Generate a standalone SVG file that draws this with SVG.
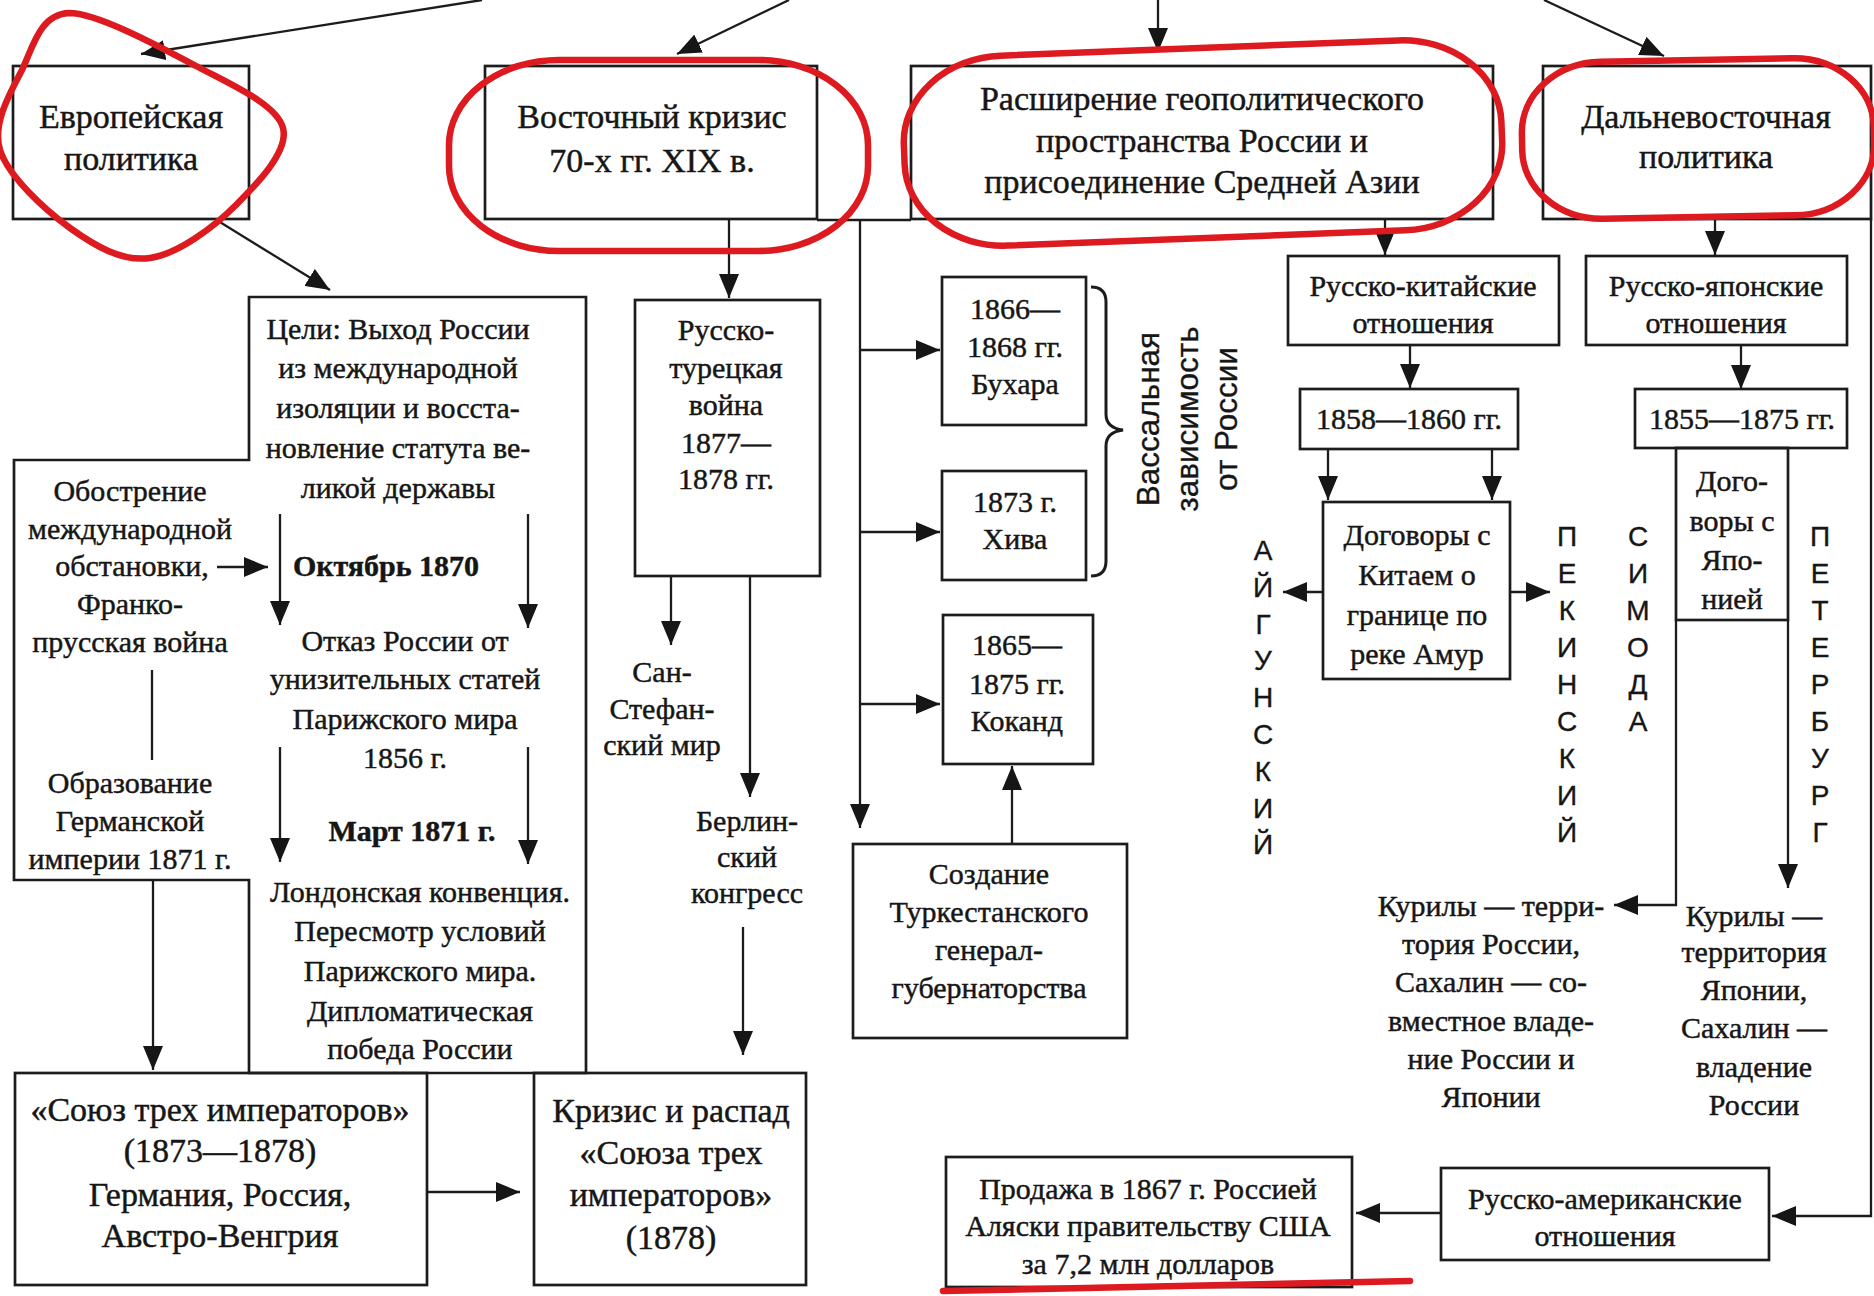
<svg xmlns="http://www.w3.org/2000/svg" width="1874" height="1296" viewBox="0 0 1874 1296">
<defs>
<style>
.box{fill:none;stroke:#1c1c1c;stroke-width:2.7}
.ln{fill:none;stroke:#1c1c1c;stroke-width:2.3}
.arr{marker-end:url(#ah)}
.t{font-family:"Liberation Serif","Times New Roman",serif;font-size:30px;text-anchor:middle;fill:#161616;stroke:#161616;stroke-width:0.45}
.tb{font-weight:bold}
.big{font-size:34px}
.s{font-family:"Liberation Sans",Arial,sans-serif;font-size:28px;text-anchor:middle;fill:#161616;stroke:#161616;stroke-width:0.35}
.sv{font-size:31.5px}
.red{fill:none;stroke:#dc1a1f;stroke-width:6.5;stroke-linecap:round;stroke-linejoin:round}
</style>
<marker id="ah" markerUnits="userSpaceOnUse" viewBox="0 0 24 20" refX="24" refY="10" markerWidth="24" markerHeight="20" orient="auto">
<path d="M0,0 L24,10 L0,20 Z" fill="#161616"/>
</marker>
</defs>
<rect width="1874" height="1296" fill="#ffffff"/>

<g id="connectors">
<path class="ln arr" d="M482,0 L141,54"/>
<path class="ln arr" d="M789,0 L677,54"/>
<path class="ln arr" d="M1158,0 L1158,52"/>
<path class="ln arr" d="M1544,0 L1664,56"/>
<path class="ln arr" d="M215,219 L330,290"/>
<path class="ln arr" d="M729,220 L729,298"/>
<path class="ln" d="M817,220 L911,220"/>
<path class="ln arr" d="M860,220 L860,828"/>
<path class="ln arr" d="M860,350 L940,350"/>
<path class="ln arr" d="M860,532 L940,532"/>
<path class="ln arr" d="M860,704 L940,704"/>
<path class="ln arr" d="M1012,844 L1012,766"/>
<path class="ln arr" d="M671,576 L671,645"/>
<path class="ln arr" d="M750,576 L750,797"/>
<path class="ln arr" d="M743,927 L743,1055"/>
<path class="ln arr" d="M217,567 L268,567"/>
<path class="ln arr" d="M280,514 L280,625"/>
<path class="ln arr" d="M528,514 L528,628"/>
<path class="ln arr" d="M280,747 L280,862"/>
<path class="ln arr" d="M528,747 L528,864"/>
<path class="ln" d="M152,670 L152,760"/>
<path class="ln arr" d="M153,880 L153,1070"/>
<path class="ln arr" d="M427,1192 L520,1192"/>
<path class="ln arr" d="M1385,220 L1385,255"/>
<path class="ln arr" d="M1410,345 L1410,388"/>
<path class="ln arr" d="M1328,449 L1328,500"/>
<path class="ln arr" d="M1492,449 L1492,500"/>
<path class="ln arr" d="M1323,592 L1283,592"/>
<path class="ln arr" d="M1510,592 L1550,592"/>
<path class="ln arr" d="M1715,220 L1715,255"/>
<path class="ln arr" d="M1741,345 L1741,389"/>
<path class="ln arr" d="M1676,620 L1676,905 L1614,905"/>
<path class="ln arr" d="M1788,620 L1788,888"/>
<path class="ln arr" d="M1871,219 L1871,1216 L1772,1216"/>
<path class="ln arr" d="M1441,1213 L1356,1213"/>
</g>

<g id="n-europe">
<rect class="box" x="13" y="66" width="236" height="153"/>
<text class="t big" x="131" y="128">Европейская</text>
<text class="t big" x="131" y="170">политика</text>
</g>

<g id="n-east">
<rect class="box" x="485" y="66" width="332" height="153"/>
<text class="t big" x="652" y="128">Восточный кризис</text>
<text class="t big" x="652" y="172">70-х гг. XIX в.</text>
</g>

<g id="n-expand">
<rect class="box" x="911" y="66" width="582" height="153"/>
<text class="t big" x="1202" y="110">Расширение геополитического</text>
<text class="t big" x="1202" y="152">пространства России и</text>
<text class="t big" x="1202" y="193">присоединение Средней Азии</text>
</g>

<g id="n-fareast">
<rect class="box" x="1543" y="66" width="328" height="153"/>
<text class="t big" x="1706" y="128">Дальневосточная</text>
<text class="t big" x="1706" y="168">политика</text>
</g>

<g id="n-europe-detail">
<path class="box" d="M249,1073 L249,880 L14,880 L14,460 L249,460 L249,297 L586,297 L586,1073 Z"/>
<g id="n-goals">
<text class="t" x="398" y="339">Цели: Выход России</text>
<text class="t" x="398" y="378">из международной</text>
<text class="t" x="398" y="418">изоляции и восста-</text>
<text class="t" x="398" y="458">новление статута ве-</text>
<text class="t" x="398" y="498">ликой державы</text>
</g>
<g id="n-aggravation">
<text class="t" x="130" y="501">Обострение</text>
<text class="t" x="130" y="539">международной</text>
<text class="t" x="132" y="576">обстановки,</text>
<text class="t" x="130" y="614">Франко-</text>
<text class="t" x="130" y="652">прусская война</text>
</g>
<g id="n-german-empire">
<text class="t" x="130" y="793">Образование</text>
<text class="t" x="130" y="831">Германской</text>
<text class="t" x="130" y="869">империи 1871 г.</text>
</g>
<g id="n-oct1870">
<text class="t tb" x="386" y="576">Октябрь 1870</text>
</g>
<g id="n-refusal">
<text class="t" x="405" y="651">Отказ России от</text>
<text class="t" x="405" y="689">унизительных статей</text>
<text class="t" x="405" y="729">Парижского мира</text>
<text class="t" x="405" y="768">1856 г.</text>
</g>
<g id="n-mar1871">
<text class="t tb" x="412" y="841">Март 1871 г.</text>
</g>
<g id="n-london">
<text class="t" x="420" y="902">Лондонская конвенция.</text>
<text class="t" x="420" y="941">Пересмотр условий</text>
<text class="t" x="420" y="981">Парижского мира.</text>
<text class="t" x="420" y="1021">Дипломатическая</text>
<text class="t" x="420" y="1059">победа России</text>
</g>
</g>

<g id="n-rt-war">
<rect class="box" x="635" y="300" width="185" height="276"/>
<text class="t" x="726" y="340">Русско-</text>
<text class="t" x="726" y="378">турецкая</text>
<text class="t" x="726" y="415">война</text>
<text class="t" x="726" y="453">1877—</text>
<text class="t" x="726" y="489">1878 гг.</text>
</g>

<g id="n-sanstefano">
<text class="t" x="662" y="682">Сан-</text>
<text class="t" x="662" y="719">Стефан-</text>
<text class="t" x="662" y="755">ский мир</text>
</g>

<g id="n-berlin">
<text class="t" x="747" y="831">Берлин-</text>
<text class="t" x="747" y="867">ский</text>
<text class="t" x="747" y="903">конгресс</text>
</g>

<g id="n-union">
<rect class="box" x="15" y="1073" width="412" height="212"/>
<text class="t big" x="220" y="1121">«Союз трех императоров»</text>
<text class="t big" x="220" y="1162">(1873—1878)</text>
<text class="t big" x="220" y="1206">Германия, Россия,</text>
<text class="t big" x="220" y="1247">Австро-Венгрия</text>
</g>

<g id="n-crisis">
<rect class="box" x="534" y="1073" width="272" height="212"/>
<text class="t big" x="671" y="1122">Кризис и распад</text>
<text class="t big" x="671" y="1164">«Союза трех</text>
<text class="t big" x="671" y="1206">императоров»</text>
<text class="t big" x="671" y="1249">(1878)</text>
</g>

<g id="n-bukhara">
<rect class="box" x="942" y="277" width="144" height="148"/>
<text class="t" x="1015" y="319">1866—</text>
<text class="t" x="1015" y="357">1868 гг.</text>
<text class="t" x="1015" y="394">Бухара</text>
</g>

<g id="n-khiva">
<rect class="box" x="942" y="471" width="144" height="109"/>
<text class="t" x="1015" y="512">1873 г.</text>
<text class="t" x="1015" y="549">Хива</text>
</g>

<g id="n-kokand">
<rect class="box" x="943" y="615" width="150" height="149"/>
<text class="t" x="1017" y="655">1865—</text>
<text class="t" x="1017" y="694">1875 гг.</text>
<text class="t" x="1017" y="731">Коканд</text>
</g>

<g id="n-vassal">
<path class="ln" style="stroke-width:3" d="M1091,287 Q1106,287 1106,302 L1106,414 Q1106,428 1123,430 Q1106,432 1106,446 L1106,561 Q1106,576 1091,576"/>
<text class="s sv" transform="translate(1159,419) rotate(-90)">Вассальная</text>
<text class="s sv" transform="translate(1198,419) rotate(-90)">зависимость</text>
<text class="s sv" transform="translate(1237,419) rotate(-90)">от России</text>
</g>

<g id="n-turkestan">
<rect class="box" x="853" y="844" width="274" height="194"/>
<text class="t" x="989" y="884">Создание</text>
<text class="t" x="989" y="922">Туркестанского</text>
<text class="t" x="989" y="960">генерал-</text>
<text class="t" x="989" y="998">губернаторства</text>
</g>

<g id="n-rucn">
<rect class="box" x="1288" y="256" width="271" height="89"/>
<text class="t" x="1423" y="296">Русско-китайские</text>
<text class="t" x="1423" y="333">отношения</text>
</g>

<g id="n-1858">
<rect class="box" x="1300" y="389" width="218" height="60"/>
<text class="t" x="1409" y="429">1858—1860 гг.</text>
</g>

<g id="n-treaty-cn">
<rect class="box" x="1323" y="502" width="187" height="177"/>
<text class="t" x="1417" y="545">Договоры с</text>
<text class="t" x="1417" y="585">Китаем о</text>
<text class="t" x="1417" y="625">границе по</text>
<text class="t" x="1417" y="664">реке Амур</text>
</g>

<g id="n-aigun">
<text class="s"><tspan x="1263" y="560">А</tspan><tspan x="1263" y="597">Й</tspan><tspan x="1263" y="634">Г</tspan><tspan x="1263" y="670">У</tspan><tspan x="1263" y="707">Н</tspan><tspan x="1263" y="744">С</tspan><tspan x="1263" y="781">К</tspan><tspan x="1263" y="818">И</tspan><tspan x="1263" y="854">Й</tspan></text>
</g>

<g id="n-peking">
<text class="s"><tspan x="1567" y="546">П</tspan><tspan x="1567" y="583">Е</tspan><tspan x="1567" y="620">К</tspan><tspan x="1567" y="657">И</tspan><tspan x="1567" y="694">Н</tspan><tspan x="1567" y="731">С</tspan><tspan x="1567" y="768">К</tspan><tspan x="1567" y="805">И</tspan><tspan x="1567" y="842">Й</tspan></text>
</g>

<g id="n-shimoda">
<text class="s"><tspan x="1638" y="546">С</tspan><tspan x="1638" y="583">И</tspan><tspan x="1638" y="620">М</tspan><tspan x="1638" y="657">О</tspan><tspan x="1638" y="694">Д</tspan><tspan x="1638" y="731">А</tspan></text>
</g>

<g id="n-peterburg">
<text class="s"><tspan x="1820" y="546">П</tspan><tspan x="1820" y="583">Е</tspan><tspan x="1820" y="620">Т</tspan><tspan x="1820" y="657">Е</tspan><tspan x="1820" y="694">Р</tspan><tspan x="1820" y="731">Б</tspan><tspan x="1820" y="768">У</tspan><tspan x="1820" y="805">Р</tspan><tspan x="1820" y="842">Г</tspan></text>
</g>

<g id="n-rujp">
<rect class="box" x="1586" y="256" width="261" height="89"/>
<text class="t" x="1716" y="296">Русско-японские</text>
<text class="t" x="1716" y="333">отношения</text>
</g>

<g id="n-1855">
<rect class="box" x="1635" y="389" width="212" height="59"/>
<text class="t" x="1742" y="429">1855—1875 гг.</text>
</g>

<g id="n-treaty-jp">
<rect class="box" x="1676" y="448" width="112" height="172"/>
<text class="t" x="1732" y="491">Дого-</text>
<text class="t" x="1732" y="531">воры с</text>
<text class="t" x="1732" y="570">Япо-</text>
<text class="t" x="1732" y="609">нией</text>
</g>

<g id="n-kuril-ru">
<text class="t" x="1491" y="916">Курилы — терри-</text>
<text class="t" x="1491" y="954">тория России,</text>
<text class="t" x="1491" y="992">Сахалин — со-</text>
<text class="t" x="1491" y="1031">вместное владе-</text>
<text class="t" x="1491" y="1069">ние России и</text>
<text class="t" x="1491" y="1107">Японии</text>
</g>

<g id="n-kuril-jp">
<text class="t" x="1754" y="926">Курилы —</text>
<text class="t" x="1754" y="962">территория</text>
<text class="t" x="1754" y="1000">Японии,</text>
<text class="t" x="1754" y="1038">Сахалин —</text>
<text class="t" x="1754" y="1077">владение</text>
<text class="t" x="1754" y="1115">России</text>
</g>

<g id="n-alaska">
<rect class="box" x="946" y="1157" width="406" height="130"/>
<text class="t" x="1148" y="1199">Продажа в 1867 г. Россией</text>
<text class="t" x="1148" y="1236">Аляски правительству США</text>
<text class="t" x="1148" y="1274">за 7,2 млн долларов</text>
</g>

<g id="n-ruam">
<rect class="box" x="1441" y="1168" width="328" height="92"/>
<text class="t" x="1605" y="1209">Русско-американские</text>
<text class="t" x="1605" y="1246">отношения</text>
</g>

<g id="annotations">
<path class="red" d="M69,13 C98,13 162,48 198,67 C234,86 277,105 283,128 C289,151 258,183 236,205 C214,227 178,254 150,258 C122,262 95,246 70,228 C45,210 8,176 0,150 C-8,124 10,93 22,70 C33,47 40,14 69,13 Z"/>
<rect class="red" x="449" y="60" width="419" height="191" rx="110" ry="85"/>
<rect class="red" x="904" y="48" width="598" height="190" rx="100" ry="85" transform="rotate(-2.2 1203 143)"/>
<rect class="red" x="1522" y="60" width="352" height="157" rx="80" ry="70" transform="rotate(-1 1698 138)"/>
<path class="red" d="M943,1291 L1410,1281"/>
</g>
</svg>
